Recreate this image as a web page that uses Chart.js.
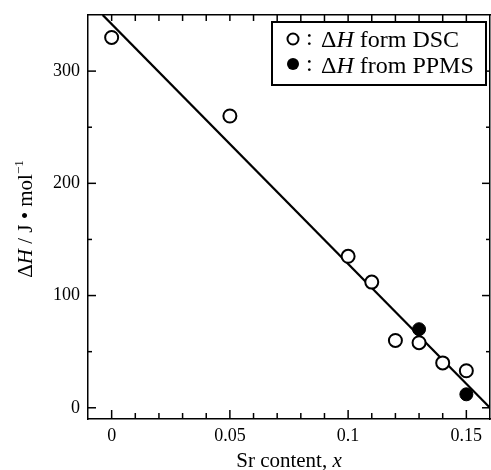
<!DOCTYPE html>
<html>
<head>
<meta charset="utf-8">
<script src="https://cdn.jsdelivr.net/npm/chart.js@4"></script>
<style>
  html, body { margin: 0; padding: 0; background: #fff; }
  #wrap { position: relative; width: 491px; height: 470px; }
</style>
</head>
<body>
<div id="wrap"><canvas id="enthalpyChart" width="491" height="470"></canvas></div>
<script>
// values
const dscX = [0, 0.05, 0.1, 0.11, 0.12, 0.13, 0.14, 0.15];
const dscY = [330, 260, 135, 112, 60, 58, 40, 33];
const ppmsX = [0.13, 0.15];
const ppmsY = [70, 12];
const fitX = [-0.0038, 0.16];
const fitY = [350, 0];

const xTicks = [0, 0.05, 0.1, 0.15];
const xTickLabels = ['0', '0.05', '0.1', '0.15'];
const xMinorTicks = [0.01, 0.02, 0.03, 0.04, 0.06, 0.07, 0.08, 0.09, 0.11, 0.12, 0.13, 0.14];
const yTicks = [0, 100, 200, 300];
const yTickLabels = ['0', '100', '200', '300'];
const yMinorTicks = [50, 150, 250];

const toPoints = (xs, ys) => xs.map((x, i) => ({ x: x, y: ys[i] }));
const SERIF = '"Liberation Serif", "DejaVu Serif", serif';

// inward tick marks on all four sides
const tickMarks = {
  id: 'tickMarks',
  afterDraw(chart) {
    const ctx = chart.ctx;
    const area = chart.chartArea;
    const xs = chart.scales.x;
    const ys = chart.scales.y;
    ctx.save();
    ctx.strokeStyle = '#000';
    ctx.lineWidth = 1.5;
    const tick = (x1, y1, x2, y2) => {
      ctx.beginPath();
      ctx.moveTo(x1, y1);
      ctx.lineTo(x2, y2);
      ctx.stroke();
    };
    xTicks.forEach(v => {
      const px = xs.getPixelForValue(v);
      tick(px, area.bottom, px, area.bottom - 9);
      tick(px, area.top, px, area.top + 6);
    });
    xMinorTicks.forEach(v => {
      const px = xs.getPixelForValue(v);
      tick(px, area.bottom, px, area.bottom - 6);
      tick(px, area.top, px, area.top + 6);
    });
    yTicks.forEach(v => {
      const py = ys.getPixelForValue(v);
      tick(area.left, py, area.left + 8, py);
      tick(area.right, py, area.right - 8, py);
    });
    yMinorTicks.forEach(v => {
      const py = ys.getPixelForValue(v);
      tick(area.left, py, area.left + 4, py);
      tick(area.right, py, area.right - 4, py);
    });
    ctx.restore();
  }
};

// axis titles with italic symbols, and the boxed legend
const labels = {
  id: 'labels',
  afterDraw(chart) {
    const ctx = chart.ctx;
    const area = chart.chartArea;
    ctx.save();
    ctx.fillStyle = '#000';
    ctx.textBaseline = 'alphabetic';

    const runs = (parts, x, y) => {
      let cx = x;
      parts.forEach(p => {
        ctx.font = p[1];
        ctx.fillText(p[0], cx, y + (p[2] || 0));
        cx += ctx.measureText(p[0]).width;
      });
      return cx;
    };
    const width = (parts) => parts.reduce((w, p) => {
      ctx.font = p[1];
      return w + ctx.measureText(p[0]).width;
    }, 0);

    const norm = '21px ' + SERIF;
    const ital = 'italic 21px ' + SERIF;
    const sup = '13px ' + SERIF;

    // x title
    const xt = [['Sr content, ', norm], ['x', ital]];
    const xcx = (area.left + area.right) / 2;
    runs(xt, xcx - width(xt) / 2, 467);

    // y title, rotated
    const yt = [['\u0394', norm], ['H', ital], [' / J \u2022 mol', norm], ['\u22121', sup, -9]];
    ctx.translate(32, 219);
    ctx.rotate(-Math.PI / 2);
    runs(yt, -width(yt) / 2, 0);
    ctx.setTransform(1, 0, 0, 1, 0, 0);

    // legend box
    ctx.lineWidth = 2;
    ctx.strokeStyle = '#000';
    ctx.fillStyle = '#fff';
    ctx.fillRect(272, 22, 214, 63);
    ctx.strokeRect(272, 22, 214, 63);
    ctx.fillStyle = '#000';

    ctx.beginPath();
    ctx.arc(293, 39, 5.5, 0, Math.PI * 2);
    ctx.stroke();
    ctx.beginPath();
    ctx.arc(293, 64, 6, 0, Math.PI * 2);
    ctx.fill();

    const lnorm = '24px ' + SERIF;
    const lital = 'italic 24px ' + SERIF;
    runs([[':', lnorm]], 306, 45);
    runs([[':', lnorm]], 306, 71);
    runs([['\u0394', lnorm], ['H', lital], [' form DSC', lnorm]], 321, 47);
    runs([['\u0394', lnorm], ['H', lital], [' from PPMS', lnorm]], 321, 73);
    ctx.restore();
  }
};

const tickFont = { family: SERIF, size: 18 };
const noPad = (scale) => {
  scale.paddingLeft = 0;
  scale.paddingRight = 0;
  scale.paddingTop = 0;
  scale.paddingBottom = 0;
};

new Chart(document.getElementById('enthalpyChart'), {
  type: 'scatter',
  data: {
    datasets: [
      {
        label: 'fit',
        type: 'line',
        data: toPoints(fitX, fitY),
        borderColor: '#000',
        borderWidth: 2.3,
        pointRadius: 0,
        fill: false,
        order: 2
      },
      {
        label: '\u0394H form DSC',
        data: toPoints(dscX, dscY),
        pointRadius: 6.5,
        pointBorderWidth: 2,
        borderColor: '#000',
        backgroundColor: '#fff',
        pointBackgroundColor: '#fff',
        pointBorderColor: '#000',
        order: 1
      },
      {
        label: '\u0394H from PPMS',
        data: toPoints(ppmsX, ppmsY),
        pointRadius: 6.5,
        pointBorderWidth: 1,
        borderColor: '#000',
        backgroundColor: '#000',
        pointBackgroundColor: '#000',
        pointBorderColor: '#000',
        order: 0
      }
    ]
  },
  options: {
    responsive: false,
    animation: false,
    layout: { autoPadding: false, padding: { top: 15, right: 0, left: 0, bottom: 0 } },
    plugins: {
      legend: { display: false },
      tooltip: { enabled: false }
    },
    scales: {
      x: {
        type: 'linear',
        position: 'bottom',
        min: -0.01,
        max: 0.16,
        afterBuildTicks: (scale) => { scale.ticks = xTicks.map(v => ({ value: v })); },
        afterFit: (scale) => { scale.height = 51; noPad(scale); },
        grid: { display: false, drawTicks: false },
        border: { display: true, color: '#000', width: 1.5 },
        ticks: {
          color: '#000',
          font: tickFont,
          padding: 6,
          maxRotation: 0,
          callback: (value) => xTickLabels[xTicks.indexOf(value)]
        }
      },
      xTop: {
        type: 'linear',
        position: 'top',
        min: -0.01,
        max: 0.16,
        afterFit: (scale) => { scale.height = 0; noPad(scale); },
        grid: { display: false, drawTicks: false },
        border: { display: true, color: '#000', width: 1.5 },
        ticks: { display: false }
      },
      y: {
        type: 'linear',
        position: 'left',
        min: -10,
        max: 350,
        afterBuildTicks: (scale) => { scale.ticks = yTicks.map(v => ({ value: v })); },
        afterFit: (scale) => { scale.width = 88; noPad(scale); },
        grid: { display: false, drawTicks: false },
        border: { display: true, color: '#000', width: 1.5 },
        ticks: {
          color: '#000',
          font: tickFont,
          padding: 8,
          callback: (value) => yTickLabels[yTicks.indexOf(value)]
        }
      },
      yRight: {
        type: 'linear',
        position: 'right',
        min: -10,
        max: 350,
        afterFit: (scale) => { scale.width = 1; noPad(scale); },
        grid: { display: false, drawTicks: false },
        border: { display: true, color: '#000', width: 1.5 },
        ticks: { display: false }
      }
    }
  },
  plugins: [tickMarks, labels]
});
</script>
</body>
</html>
